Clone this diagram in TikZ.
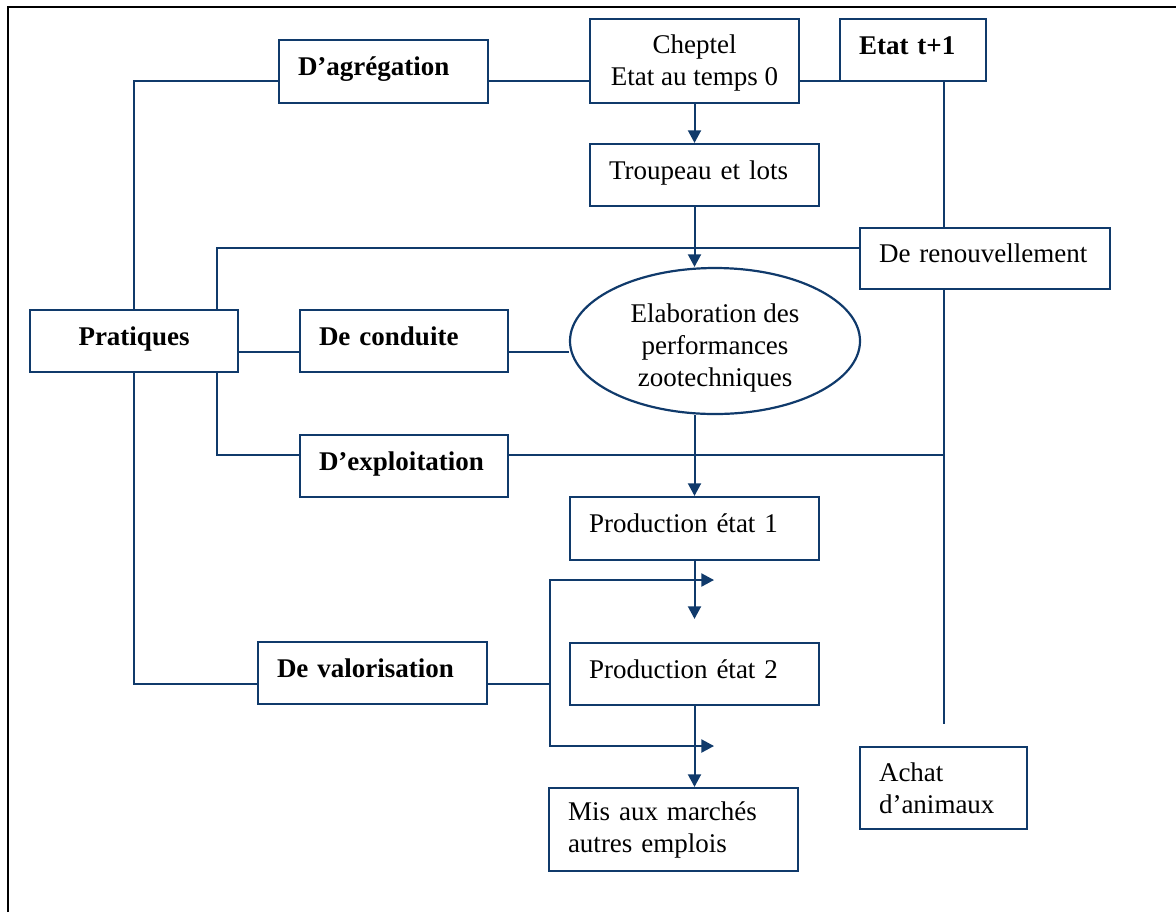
\documentclass[tikz,border=0pt]{standalone}
\usepackage{fontspec}
\setmainfont{Liberation Serif}
\usepackage{tikz}
\usetikzlibrary{arrows.meta,calc,shapes.geometric}
\definecolor{trait}{HTML}{103A6B}

\begin{document}
\begin{tikzpicture}[x=0.5pt,y=-0.5pt,font=\fontsize{13.5}{16}\selectfont,>={Triangle[length=6.3pt,width=6.5pt]},
 cadre/.style={draw=trait,line width=1.1pt,rectangle,inner xsep=9.5pt,inner ysep=0pt,align=left},
 ligne/.style={cadre,text height=9pt,text depth=5pt},
 bulle/.style={draw=trait,line width=1.1pt,ellipse,inner sep=0pt,align=center,minimum width=145pt,minimum height=73pt},
 lien/.style={draw=trait,line width=1pt}]
\useasboundingbox (0,0) rectangle (1176,912);
% page frame, cut at right and bottom
\draw[line width=0.7pt] (8,912) -- (8,7) -- (1176,7);
% levels of the connectors
\coordinate (rail) at (0,81);
\coordinate (col) at (217,0);
\coordinate (r2) at (0,248);
\coordinate (r3) at (0,352);
\coordinate (r4) at (0,455);
\coordinate (r5) at (0,684);
\coordinate (fourche) at (550,684);
\coordinate (f1) at (714,580);
\coordinate (f2) at (714,746);
% top row
\node[ligne,text width=85.5pt,minimum height=31.5pt] (agreg) at (383.5,71.5) {\textbf{D’agrégation}};
\node[cadre,align=center,inner xsep=0pt,minimum width=104.5pt,minimum height=42pt] (cheptel) at (694.5,61) {\rule{0pt}{11pt}Cheptel\\Etat au temps 0};
\node[ligne,text width=54pt,minimum height=31pt] (etat) at (913,50) {\textbf{Etat t+1}};
\node[ligne,text width=95.5pt,minimum height=31pt] (troupeau) at (704.5,175) {Troupeau et lots};
\node[ligne,text width=106pt,minimum height=30.5pt] (renouv) at (985,258.5) {De renouvellement};
% practices
\node[ligne,align=center,text width=85pt,minimum height=31pt] (prat) at (134,341) {\textbf{Pratiques}};
\node[ligne,text width=85pt,minimum height=31pt] (conduite) at (404,341) {\textbf{De conduite}};
\node[ligne,text width=85pt,minimum height=31pt] (exploit) at (404,466) {\textbf{D’exploitation}};
\node[ligne,text width=95.5pt,minimum height=31pt] (valor) at (372.5,673) {\textbf{De valorisation}};
\node[bulle] (elab) at (715,341) {\rule{0pt}{16pt}Elaboration des\\performances\\zootechniques};
% production chain
\node[ligne,text width=105.5pt,minimum height=31.5pt] (prod1) at (694.5,528.5) {Production état 1};
\node[ligne,text width=105.5pt,minimum height=31pt] (prod2) at (694.5,674) {Production état 2};
\node[cadre,text width=105.5pt,minimum height=41.5pt] (marche) at (673.5,829.5) {Mis aux marchés\\autres emplois};
\node[cadre,text width=64.5pt,minimum height=41pt] (achat) at (943.5,788) {Achat\\d’animaux};
% connectors
\draw[lien] (prat.north) |- (agreg.west |- rail);
\draw[lien] (agreg.east |- rail) -- (cheptel.west |- rail);
\draw[lien] (cheptel.east |- rail) -- (rail -| etat.south west);
\draw[lien,->] (cheptel.south) -- (troupeau.north -| cheptel.south);
\draw[lien,->] (troupeau.south -| cheptel) -- (elab.north -| cheptel);
\draw[lien] (prat.north -| col) |- (renouv.west |- r2);
\draw[lien] (prat.east |- r3) -- (conduite.west |- r3);
\draw[lien] (conduite.east |- r3) -- (elab.west |- r3);
\draw[lien] (prat.south -| col) |- (exploit.west |- r4);
\draw[lien] (exploit.east |- r4) -- (achat |- r4);
\draw[lien,->] (elab.south -| cheptel) -- (prod1.north -| cheptel);
\draw[lien] (etat.south -| achat) -- (renouv.north -| achat);
\draw[lien] (renouv.south -| achat) -- ($(achat.north)+(0,-22)$);
\draw[lien] (prat.south) |- (valor.west |- r5);
\draw[lien] (valor.east |- r5) -- (fourche);
\draw[lien,->] (fourche) |- (f1);
\draw[lien,->] (fourche) |- (f2);
\draw[lien,->] (prod1.south -| cheptel) -- ($(prod2.north -| cheptel)+(0,-23)$);
\draw[lien,->] (prod2.south -| cheptel) -- (marche.north -| cheptel);
\end{tikzpicture}
\end{document}
